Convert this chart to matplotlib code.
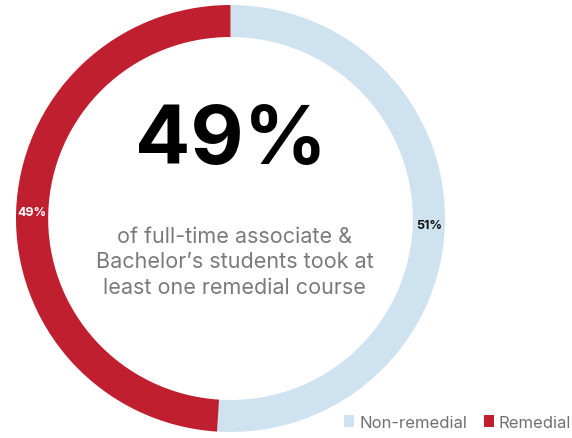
import numpy as np
import matplotlib.pyplot as plt
from matplotlib.patches import Patch

categories = ["Non-remedial", "Remedial"]
shares = [51, 49]
colors = ["#cfe2f0", "#c01f2f"]
labelColors = ["#111111", "#ffffff"]

headline = "49%"
subtitle = "of full-time associate &\nBachelor\u2019s students took at\nleast one remedial course"

plt.rcParams["font.family"] = ["Inter", "DejaVu Sans"]

fig = plt.figure(figsize=(5.72, 4.39), dpi=100)
ax = fig.add_axes([16 / 572, 6 / 439, 429 / 572, 427 / 439])

wedges, _ = ax.pie(
    shares,
    colors=colors,
    startangle=90,
    counterclock=False,
    radius=1.0,
    wedgeprops=dict(width=0.15, edgecolor="white", linewidth=0),
)

# percentage labels in the middle of the ring
for wedge, share, col in zip(wedges, shares, labelColors):
    ang = np.deg2rad((wedge.theta1 + wedge.theta2) / 2)
    r = 0.925
    ax.text(r * np.cos(ang), r * np.sin(ang), f"{share}%",
            ha="center", va="center", fontsize=9, fontweight="bold", color=col)

ax.text(0, 0.36, headline, ha="center", va="center", fontsize=59,
        fontweight="bold", color="#000000")
ax.text(0.02, -0.2, subtitle, ha="center", va="center", fontsize=15.5,
        color="#7a7a7a", linespacing=1.35)

ax.set_xlim(-1, 1)
ax.set_ylim(-1, 1)
ax.set_aspect("auto")
ax.axis("off")

handles = [Patch(facecolor=c, edgecolor="none") for c in colors]
fig.legend(handles, categories, loc="lower right", bbox_to_anchor=(1.025, -0.015),
           ncol=2, frameon=False, fontsize=12, handlelength=0.6, handleheight=0.7,
           handletextpad=0.3, columnspacing=1.0, labelcolor="#707070")

fig.savefig("out.png", dpi=100)
